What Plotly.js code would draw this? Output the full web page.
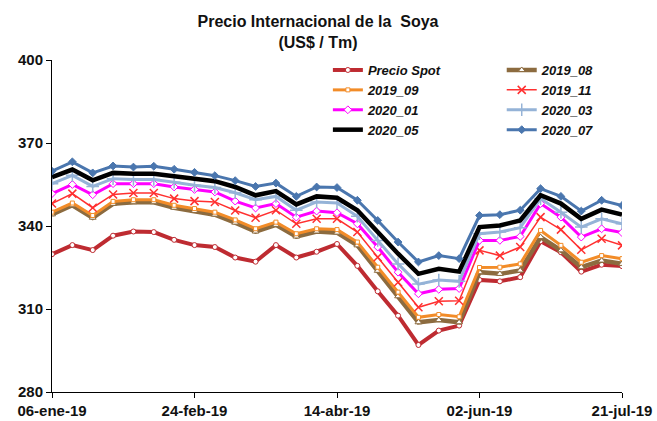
<!DOCTYPE html>
<html>
<head>
<meta charset="utf-8">
<script src="https://cdn.plot.ly/plotly-3.0.1.min.js"></script>
<style>html,body{margin:0;padding:0;background:#fff;}#chart{width:657px;height:421px;}</style>
</head>
<body>
<div id="chart"></div>
<script>
const dates = ['2019-01-06','2019-01-13','2019-01-20','2019-01-27','2019-02-03','2019-02-10','2019-02-17','2019-02-24','2019-03-03','2019-03-10','2019-03-17','2019-03-24','2019-03-31','2019-04-07','2019-04-14','2019-04-21','2019-04-28','2019-05-05','2019-05-12','2019-05-19','2019-05-26','2019-06-02','2019-06-09','2019-06-16','2019-06-23','2019-06-30','2019-07-07','2019-07-14','2019-07-21'];
const tickDates = ['2019-01-06','2019-02-24','2019-04-14','2019-06-02','2019-07-21'];
const tickLabels = ['06-ene-19','24-feb-19','14-abr-19','02-jun-19','21-jul-19'];

const precioSpot = [329.8,333.1,331.3,336.5,338,337.8,335,333.1,332.4,328.6,327.1,333.1,328.6,330.7,333.5,325.6,316.4,307.6,297,302.2,304,320.5,320,321.5,334.5,330.5,323.5,326,325.5];
const s2019_08 = [344.2,347.5,343,348,348.6,348.6,346.6,345.4,344.1,341.2,338,340.4,336.2,338,337.6,333,323.8,314.6,305.2,306,305.2,323.3,322.7,323.9,336,331.2,325.1,327.5,326.3];
const s2019_09 = [345,348.3,343.8,348.9,349.5,349.5,347.5,346.3,345,342.2,339,341.4,337.2,339,338.7,334.2,325.1,316.1,307,308,307.2,325,325.1,326.3,338.4,333,326.9,329.3,328.2];
const s2019_11 = [348.1,351.7,346.6,351.4,351.9,351.9,349.9,349,348.7,345.6,343,345.7,340.8,342.6,342.6,337.8,328.7,319.7,310.6,312.8,313,331.2,329.3,332.4,343.2,338.7,331.4,335.4,333];
const s2020_01 = [351.7,355,351.3,355.3,355.3,355.3,354.1,353.2,352.3,349,346.5,348.1,343.2,345.4,344.8,340.8,332.4,323.3,315.5,317.1,317.4,334.8,334.8,336.2,348.1,343.2,336,339,337.6];
const s2020_03 = [355.3,358.3,354.3,357.1,356.8,356.8,355.8,354.7,353.9,352,349.5,350.7,345.7,348.7,348.3,343.5,334.8,326.3,319,320.5,320,337.2,337.8,339.4,349.9,345,339.6,342.6,340.8];
const s2020_05 = [357.7,360.4,356.5,359.2,358.9,358.9,358,357,356.2,354.1,351.1,352.6,347.8,350.7,350.2,345.7,337.8,330,322.7,324.5,323.5,339.6,340.2,342,351.1,348.1,342.6,345.9,344.1];
const s2020_07 = [359.8,363.2,359.2,361.7,361.3,361.6,360.5,359.4,358.2,356.4,354.3,355.5,350.7,354.1,353.9,349.3,342,334.2,327,329.3,328.2,343.8,344.1,345.7,353.5,350.7,345.4,349.3,347.4];

const names = ['Precio Spot','2019_08','2019_09','2019_11','2020_01','2020_03','2020_05','2020_07'];

function tr(name, y, lineColor, lineWidth, marker, legend) {
  return {x: dates, y: y, name: name, type: 'scatter', mode: marker ? 'lines+markers' : 'lines',
    line: {color: lineColor, width: lineWidth}, marker: marker || {}, legend: legend};
}

const data = [
  tr(names[0], precioSpot, '#BE2B31', 4, {symbol:'circle', size:5, color:'#ffffff', line:{color:'#BE2B31', width:1}}, 'legend'),
  tr(names[1], s2019_08, '#8C6B3F', 4.5, {symbol:'triangle-up', size:6, color:'#ffffff', line:{color:'#8C6B3F', width:1}}, 'legend2'),
  tr(names[2], s2019_09, '#F28C28', 3, {symbol:'square', size:4, color:'#ffffff', line:{color:'#F28C28', width:1}}, 'legend'),
  tr(names[3], s2019_11, '#FF3030', 1.5, {symbol:'x-thin', size:8, color:'#FF3030', line:{color:'#FF3030', width:1.5}}, 'legend2'),
  tr(names[4], s2020_01, '#FF00FF', 3, {symbol:'diamond', size:6, color:'#ffffff', line:{color:'#FF00FF', width:1}}, 'legend'),
  tr(names[5], s2020_03, '#95B3D7', 3, {symbol:'cross-thin', size:9, color:'#95B3D7', line:{color:'#95B3D7', width:1.5}}, 'legend2'),
  tr(names[6], s2020_05, '#000000', 4.5, null, 'legend'),
  tr(names[7], s2020_07, '#4A76AE', 3, {symbol:'diamond', size:6, color:'#4A76AE', line:{color:'#4A76AE', width:1}}, 'legend2')
];

const legFont = {family:'Liberation Sans, Arial, sans-serif', size:13, color:'#111', style:'italic', weight:'bold'};
const layout = {
  width: 657, height: 421,
  margin: {l:52, r:35, t:60, b:29},
  paper_bgcolor:'#ffffff', plot_bgcolor:'#ffffff',
  title: {text:'<b>Precio Internacional de la  Soya<br>(US$ / Tm)</b>', x:0.484, xanchor:'center', y:0.935, yanchor:'bottom',
    font:{family:'Liberation Sans, Arial, sans-serif', size:16, color:'#111'}},
  showlegend: true,
  legend: {x:0.484, y:1.015, xanchor:'left', yanchor:'top', bgcolor:'rgba(0,0,0,0)', font:legFont, tracegroupgap:0, itemwidth:30},
  legend2: {x:0.789, y:1.015, xanchor:'left', yanchor:'top', bgcolor:'rgba(0,0,0,0)', font:legFont, tracegroupgap:0, itemwidth:30},
  xaxis: {type:'date', range:['2019-01-06','2019-07-21'], tickmode:'array', tickvals:tickDates, ticktext:tickLabels,
    showgrid:false, zeroline:false, showline:true, linecolor:'#000', linewidth:1, ticks:'outside', ticklen:5, tickcolor:'#000',
    tickfont:{family:'Liberation Sans, Arial, sans-serif', size:15, color:'#111', weight:'bold'}},
  yaxis: {range:[280,400], tickvals:[280,310,340,370,400], showgrid:false, zeroline:false, showline:true, linecolor:'#000', linewidth:1,
    ticks:'outside', ticklen:5, tickcolor:'#000',
    tickfont:{family:'Liberation Sans, Arial, sans-serif', size:15, color:'#111', weight:'bold'}}
};

Plotly.newPlot('chart', data, layout, {displayModeBar:false, staticPlot:true});
</script>
</body>
</html>
